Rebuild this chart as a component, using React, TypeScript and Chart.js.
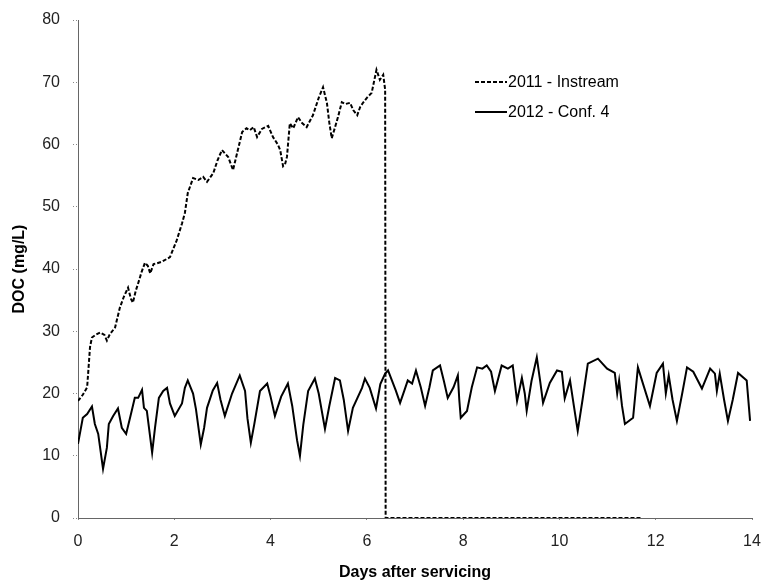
import React, { useEffect, useRef } from "react";
import { Chart, registerables } from "chart.js";

Chart.register(...registerables);

const instreamLabel = "2011 - Instream";
const conf4Label = "2012 - Conf. 4";
const xTitle = "Days after servicing";
const yTitle = "DOC (mg/L)";

const instreamDays = [
  0, 0.1, 0.19, 0.25, 0.29, 0.36, 0.46, 0.55, 0.6, 0.66, 0.77, 0.87, 0.95, 1.04, 1.1, 1.14, 1.2, 1.25,
  1.32, 1.39, 1.45, 1.5, 1.57, 1.64, 1.75, 1.91, 2.05, 2.16, 2.22, 2.28, 2.39, 2.5, 2.6, 2.68, 2.81,
  2.9, 2.99, 3.06, 3.12, 3.22, 3.32, 3.41, 3.5, 3.57, 3.65, 3.72, 3.82, 3.95, 4.05, 4.15, 4.2, 4.26,
  4.3, 4.34, 4.4, 4.47, 4.57, 4.65, 4.75, 4.88, 5.0, 5.09, 5.17, 5.22, 5.27, 5.34, 5.4, 5.48, 5.55,
  5.65, 5.72, 5.8, 5.86, 5.92, 6.0, 6.1, 6.2, 6.27, 6.34, 6.38, 6.39, 11.71,
];
const instreamDoc = [
  18.8, 19.8, 21, 27.5, 29, 29.4, 29.8, 29.4, 28.5, 29.5, 30.6, 33.8, 35.5, 37, 35.2, 34.6, 36.5, 37.7,
  39.5, 41, 40.5, 39.3, 40.8, 40.9, 41.2, 41.9, 44.6, 47.3, 49, 52.2, 54.6, 54.3, 54.8, 54, 55.4,
  57.5, 59.1, 58.5, 58, 55.9, 59.1, 62, 62.6, 62.3, 62.8, 61.2, 62.5, 63, 61.2, 60, 59.1, 56.5,
  56.8, 58, 63.4, 62.6, 64.4, 63.5, 62.8, 64.7, 67.5, 69.2, 66.7, 63.5, 61, 62.8, 64.4, 66.8, 66.5,
  66.7, 65.5, 64.7, 66, 66.7, 67.5, 68.3, 72, 70.4, 71.2, 68.8, 0, 0,
];

const conf4Days = [
  0, 0.1, 0.19, 0.29, 0.35, 0.42, 0.52, 0.6, 0.64, 0.73, 0.83, 0.91, 1.0, 1.1, 1.18, 1.25, 1.33, 1.37,
  1.43, 1.54, 1.6, 1.68, 1.77, 1.85, 1.91, 2.01, 2.16, 2.22, 2.28, 2.39, 2.45, 2.55, 2.62, 2.68, 2.8,
  2.89, 2.96, 3.05, 3.2, 3.36, 3.47, 3.52, 3.59, 3.66, 3.78, 3.93, 4.0, 4.09, 4.22, 4.36, 4.45, 4.55,
  4.61, 4.68, 4.78, 4.92, 5.0, 5.13, 5.22, 5.34, 5.44, 5.52, 5.61, 5.71, 5.9, 5.96, 6.06, 6.19, 6.28,
  6.38, 6.44, 6.52, 6.6, 6.69, 6.78, 6.85, 6.94, 7.02, 7.12, 7.21, 7.3, 7.37, 7.52, 7.6, 7.68, 7.8,
  7.89, 7.92, 7.95, 8.08, 8.18, 8.29, 8.4, 8.49, 8.58, 8.66, 8.8, 8.93, 9.03, 9.12, 9.22, 9.28, 9.32,
  9.42, 9.53, 9.6, 9.66, 9.8, 9.95, 10.05, 10.11, 10.22, 10.3, 10.38, 10.48, 10.59, 10.8, 10.99,
  11.15, 11.2, 11.24, 11.3, 11.36, 11.53, 11.63, 11.73, 11.88, 12.02, 12.15, 12.21, 12.27, 12.35,
  12.44, 12.55, 12.65, 12.78, 12.96, 13.13, 13.23, 13.27, 13.33, 13.42, 13.5, 13.6, 13.71, 13.89, 13.96,
];
const conf4Doc = [
  11.9, 16.1, 16.7, 17.9, 15.1, 13.5, 7.9, 11.3, 15.1, 16.4, 17.6, 14.5, 13.5, 16.7, 19.3, 19.3, 20.6, 17.7,
  17.2, 10.5, 14.5, 19.3, 20.4, 20.9, 18.4, 16.4, 18.4, 20.9, 22.1, 20, 17.5, 11.8, 14.5, 17.7, 20.5,
  21.7, 19, 16.4, 20, 22.9, 20.4, 16, 12.1, 15, 20.4, 21.6, 19.5, 16.4, 19.5, 21.6, 18, 12.5,
  10, 15, 20.4, 22.4, 20, 14.3, 18, 22.5, 22.1, 19, 14, 17.7, 20.9, 22.4, 20.9, 17.6, 21.5,
  23.2, 23.7, 22.1, 20.5, 18.5, 20.5, 22.1, 21.6, 23.7, 21, 18, 21, 23.7, 24.5, 22, 19.3, 21,
  22.9, 19, 16.1, 17.2, 21, 24.2, 24, 24.5, 23.5, 20.4, 24.5, 24, 24.5, 18.8, 22.5, 20, 17.2,
  22, 25.8, 22, 18.5, 21.7, 23.7, 23.5, 19.2, 22.1, 18, 14, 19, 24.8, 25.6, 24,
  23.3, 20, 22.1, 18, 15.1, 16.1, 24.2, 21.7, 18, 23.3, 24.8, 20, 22.9, 19,
  15.6, 20, 24.2, 23.5, 20.8, 24, 23.2, 20.4, 23.2, 19, 15.6, 19, 23.3, 22.1, 15.6,
];

const FONT = "'Liberation Sans', Arial, sans-serif";

const legendPlugin = {
  id: "customLegend",
  afterDraw(chart: any) {
    const ctx = chart.ctx;
    const items = [
      { label: instreamLabel, dash: [4, 2], y: 82 },
      { label: conf4Label, dash: [], y: 112 },
    ];
    ctx.save();
    for (const it of items) {
      ctx.strokeStyle = "#000";
      ctx.lineWidth = 2;
      ctx.setLineDash(it.dash);
      ctx.beginPath();
      ctx.moveTo(475, it.y);
      ctx.lineTo(507, it.y);
      ctx.stroke();
      ctx.setLineDash([]);
      ctx.fillStyle = "#000";
      ctx.font = `16px ${FONT}`;
      ctx.textBaseline = "middle";
      ctx.textAlign = "left";
      ctx.fillText(it.label, 508, it.y + 1);
    }
    ctx.restore();
  },
};

export default function App() {
  const ref = useRef<HTMLCanvasElement | null>(null);
  useEffect(() => {
    document.body.style.margin = "0";
    const canvas = ref.current!;
    const chart = new Chart(canvas, {
      type: "line",
      data: {
        datasets: [
          {
            label: instreamLabel,
            data: instreamDays.map((d, i) => ({ x: d, y: instreamDoc[i] })),
            borderColor: "#000",
            borderWidth: 2,
            borderDash: [4, 2],
            pointRadius: 0,
            tension: 0,
            fill: false,
          },
          {
            label: conf4Label,
            data: conf4Days.map((d, i) => ({ x: d, y: conf4Doc[i] })),
            borderColor: "#000",
            borderWidth: 2,
            pointRadius: 0,
            tension: 0,
            fill: false,
          },
        ],
      },
      options: {
        animation: false,
        responsive: false,
        devicePixelRatio: 1,
        layout: { padding: { left: 0, right: 12, top: 20, bottom: 0 } },
        plugins: { legend: { display: false }, tooltip: { enabled: false } },
        scales: {
          x: {
            type: "linear",
            min: 0,
            max: 14,
            afterFit: (s: any) => {
              s.height = 67;
              s.paddingRight = 0;
              s.paddingLeft = 0;
            },
            ticks: { stepSize: 2, color: "#222", padding: 10, font: { family: FONT, size: 16 } },
            grid: {
              drawOnChartArea: false,
              tickLength: 4,
              color: "#888",
              tickBorderDash: [1, 2],
            },
            border: { display: true, color: "#666", dash: [1, 2], width: 1 },
            title: {
              display: true,
              text: xTitle,
              color: "#000",
              font: { family: FONT, size: 16, weight: "bold" },
              padding: { top: 0, bottom: 3 },
            },
          },
          y: {
            min: 0,
            max: 80,
            afterFit: (s: any) => {
              s.width = 78;
              s.paddingTop = 2;
              s.paddingBottom = 0;
            },
            ticks: { stepSize: 10, color: "#222", padding: 13, font: { family: FONT, size: 16 } },
            grid: {
              drawOnChartArea: false,
              tickLength: 5,
              color: "#888",
              tickBorderDash: [1, 2],
            },
            border: { display: true, color: "#666", dash: [1, 2], width: 1 },
            title: {
              display: true,
              text: yTitle,
              color: "#000",
              font: { family: FONT, size: 16, weight: "bold" },
              padding: { top: 10, bottom: 0 },
            },
          },
        },
      },
      plugins: [legendPlugin],
    } as any);
    return () => chart.destroy();
  }, []);
  return (
    <div style={{ width: 764, height: 585, background: "#fff" }}>
      <canvas ref={ref} width={764} height={585} style={{ display: "block" }} />
    </div>
  );
}
